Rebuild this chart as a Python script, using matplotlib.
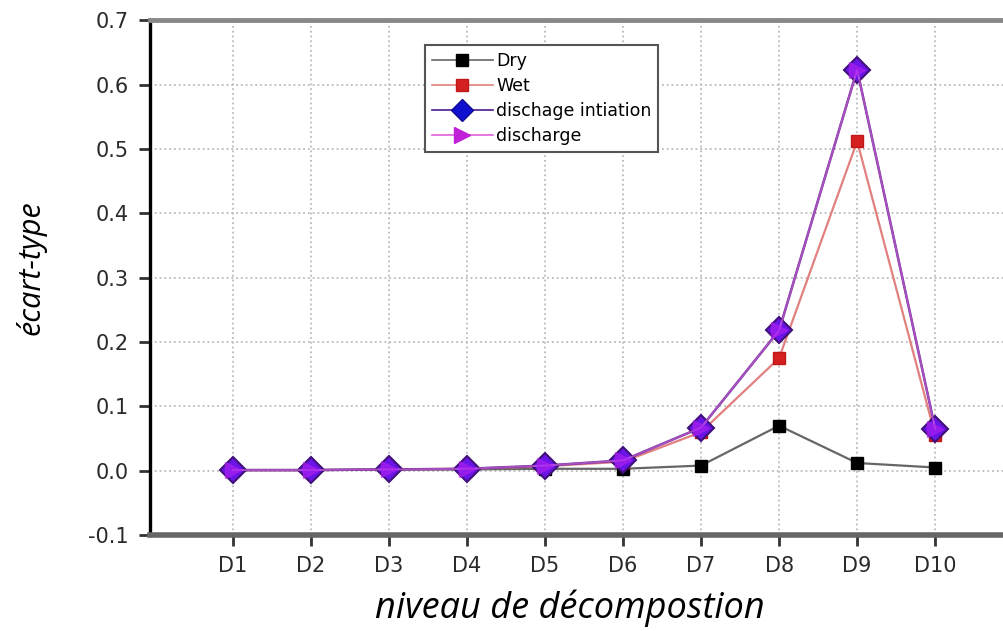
import numpy as np
import matplotlib.pyplot as plt
from matplotlib.lines import Line2D

levels = ['D1', 'D2', 'D3', 'D4', 'D5', 'D6', 'D7', 'D8', 'D9', 'D10']
dry = [0.001, 0.001, 0.002, 0.002, 0.003, 0.003, 0.008, 0.070, 0.012, 0.005]
wet = [0.001, 0.001, 0.002, 0.003, 0.007, 0.014, 0.060, 0.175, 0.512, 0.055]
initiation = [0.001, 0.001, 0.002, 0.003, 0.008, 0.016, 0.067, 0.218, 0.623, 0.065]
discharge = [0.001, 0.001, 0.002, 0.003, 0.008, 0.016, 0.067, 0.218, 0.623, 0.065]

x = np.arange(1, len(levels) + 1)

fig = plt.figure(figsize=(10.04, 6.31), dpi=100)
ax = fig.add_axes([0.149, 0.152, 0.868, 0.816])

ax.plot(x, dry, color='#666666', lw=1.6, marker='s', ms=9, mfc='black', mec='black', zorder=3)
ax.plot(x, wet, color='#e28080', lw=1.6, marker='s', ms=9, mfc='#d42020', mec='#c01818', zorder=3)
ax.plot(x, initiation, color='#5a2090', lw=1.8, marker='D', ms=13, mfc='#6a14e8', mec='#40107a',
        mew=1.5, zorder=4)
ax.plot(x, discharge, color='#e070e0', lw=1.4, marker='>', ms=12, mfc='#b020f0', mec='#b020f0',
        alpha=0.6, zorder=5)

ax.set_xlim(-0.065, 11.1)
ax.set_ylim(-0.1, 0.7)
ax.set_xticks(x)
ax.set_xticklabels(levels)
ax.set_yticks(np.arange(-0.1, 0.71, 0.1))
ax.set_yticklabels(['%.1f' % v for v in np.arange(-0.1, 0.71, 0.1)])

ax.grid(True, color='#bbbbbb', ls=':', lw=1.3)
ax.set_axisbelow(True)

ax.spines['left'].set_color('black')
ax.spines['left'].set_linewidth(2.4)
ax.spines['bottom'].set_color('#666666')
ax.spines['bottom'].set_linewidth(4)
ax.spines['top'].set_color('#888888')
ax.spines['top'].set_linewidth(3.5)
ax.spines['right'].set_visible(False)

ax.tick_params(axis='both', direction='out', length=8, width=2, color='#333333',
               labelsize=15, pad=7)
for lab in ax.get_xticklabels() + ax.get_yticklabels():
    lab.set_family('DejaVu Sans')
    lab.set_color('#2a2a2a')

ax.set_xlabel('niveau de décompostion', fontsize=26, style='italic', family='Open Sans')
ax.set_ylabel('écart-type', fontsize=22, style='italic', family='Open Sans')
ax.xaxis.set_label_coords(0.482, -0.105)
ax.yaxis.set_label_coords(-0.118, 0.52)

handles = [
    Line2D([], [], color='#666666', lw=1.2, marker='s', ms=8, mfc='black', mec='black'),
    Line2D([], [], color='#e28080', lw=1.2, marker='s', ms=8, mfc='#d42020', mec='#c01818'),
    Line2D([], [], color='#4b1a8a', lw=1.2, marker='D', ms=11, mfc='#1010d0', mec='#100a90'),
    Line2D([], [], color='#e060e0', lw=1.2, marker='>', ms=11, mfc='#c020d8', mec='#c020d8'),
]
leg = ax.legend(handles, ['Dry', 'Wet', 'dischage intiation', 'discharge'],
                loc='upper left', bbox_to_anchor=(0.316, 0.951),
                prop={'family': 'DejaVu Sans', 'size': 12.5},
                fancybox=False, framealpha=1, edgecolor='#555555',
                handlelength=3.5, handletextpad=0.2, labelspacing=0.4, borderpad=0.4,
                borderaxespad=0)
leg.get_frame().set_linewidth(1.5)

plt.savefig('out.png', dpi=100)
